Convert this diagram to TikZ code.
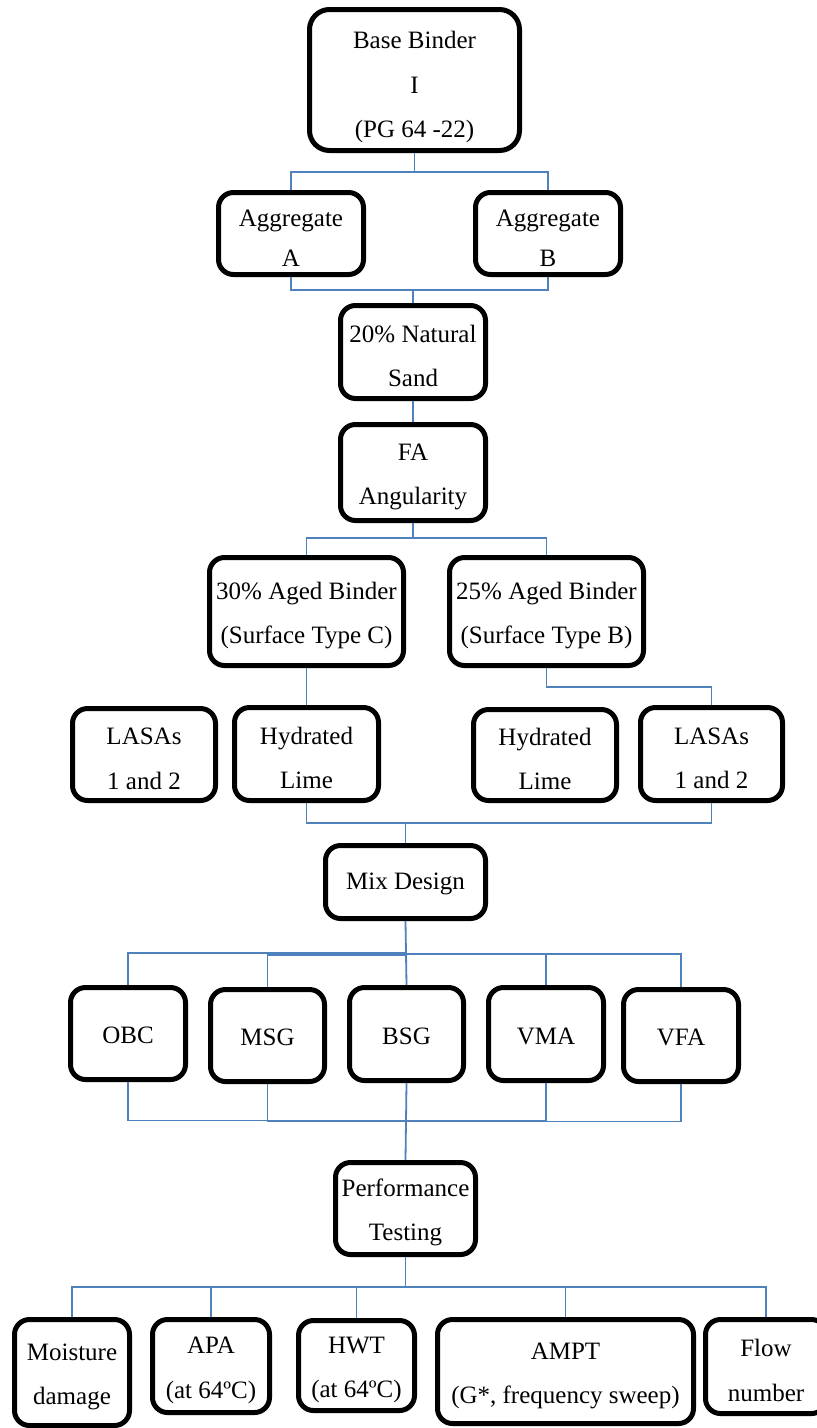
\documentclass[tikz,border=0pt]{standalone}
\usepackage{fontspec}
\setmainfont{Liberation Serif}
\definecolor{linkblue}{RGB}{79,129,189}
\begin{document}
\begin{tikzpicture}[x=1pt,y=-1pt,
  box/.style={draw=black, line width=5pt, rounded corners=15pt, inner sep=0pt,
    align=center, font=\fontsize{25}{44.5}\selectfont},
  oneline/.style={box, text height=21pt},
  twoline/.style={box, text height=69.5pt},
  conn/.style={draw=linkblue, line width=1.8pt}]
\useasboundingbox (0,0) rectangle (817,1428);
\clip (0,0) rectangle (817,1428);
\fill[white] (0,0) rectangle (817,1428);

% --- boxes ---
\node[box, rounded corners=20pt, minimum width=210pt, minimum height=141pt, text height=121pt]
  (base) at (414.5,80) {Base Binder\\I\\(PG 64 -22)};
\node[box, minimum width=145pt, minimum height=82pt, font=\fontsize{25}{40}\selectfont, text height=66.5pt]
  (aggA) at (291,233.5) {Aggregate\\A};
\node[box, minimum width=145pt, minimum height=82pt, font=\fontsize{25}{40}\selectfont, text height=66.5pt]
  (aggB) at (548,233.5) {Aggregate\\B};
\node[twoline, minimum width=145pt, minimum height=93pt] (sand) at (413,352) {20\% Natural\\Sand};
\node[twoline, minimum width=145pt, minimum height=96pt] (fa) at (413,472.5) {FA\\Angularity};
\node[twoline, minimum width=194pt, minimum height=108pt] (aged30) at (306.5,611.5) {30\% Aged Binder\\(Surface Type C)};
\node[twoline, minimum width=194pt, minimum height=108pt] (aged25) at (546.5,611.5) {25\% Aged Binder\\(Surface Type B)};
\node[twoline, minimum width=143pt, minimum height=92pt] (lasasL) at (144,754.5) {LASAs\\1 and 2};
\node[twoline, minimum width=144pt, minimum height=93pt] (limeL) at (306.5,754) {Hydrated\\Lime};
\node[twoline, minimum width=143pt, minimum height=91pt] (limeR) at (545,755) {Hydrated\\Lime};
\node[twoline, minimum width=142pt, minimum height=93pt] (lasasR) at (711.5,754) {LASAs\\1 and 2};
\node[oneline, minimum width=160pt, minimum height=73pt] (mix) at (405.5,882) {Mix Design};
\node[oneline, minimum width=115pt, minimum height=92pt] (obc) at (128,1033.5) {OBC};
\node[oneline, minimum width=114pt, minimum height=92pt] (msg) at (267.5,1035.5) {MSG};
\node[oneline, minimum width=114pt, minimum height=93pt] (bsg) at (406.5,1034) {BSG};
\node[oneline, minimum width=115pt, minimum height=93pt] (vma) at (546,1034) {VMA};
\node[oneline, minimum width=115pt, minimum height=92pt] (vfa) at (681,1035.5) {VFA};
\node[twoline, minimum width=140pt, minimum height=92pt] (perf) at (405.5,1208.5) {Performance\\Testing};
\node[twoline, minimum width=115pt, minimum height=106pt] (moist) at (72,1372.5) {Moisture\\damage};
\node[twoline, minimum width=117pt, minimum height=93pt] (apa) at (211,1366) {APA\\(at 64ºC)};
\node[twoline, minimum width=116pt, minimum height=90pt] (hwt) at (356.5,1365.5) {HWT\\(at 64ºC)};
\node[twoline, minimum width=256pt, minimum height=104pt] (ampt) at (565.5,1371.5) {AMPT\\(G*, frequency sweep)};
\node[twoline, minimum width=121pt, minimum height=94pt] (flow) at (766,1366.5) {Flow\\number};

% --- connectors ---
\draw[conn] (base.south) -- (base.south |- 0,172) -| (aggA.north);
\draw[conn] (base.south) -- (base.south |- 0,172) -| (aggB.north);
\draw[conn] (aggA.south) -- (aggA.south |- 0,290) -| (sand.north);
\draw[conn] (aggB.south) -- (aggB.south |- 0,290) -| (sand.north);
\draw[conn] (sand.south) -- (fa.north);
\draw[conn] (fa.south) -- (fa.south |- 0,538) -| (aged30.north);
\draw[conn] (fa.south) -- (fa.south |- 0,538) -| (aged25.north);
\draw[conn] (aged30.south) -- (limeL.north);
\draw[conn] (aged25.south) -- (aged25.south |- 0,687) -| (lasasR.north);
\draw[conn] (limeL.south) -- (limeL.south |- 0,823) -| (mix.north);
\draw[conn] (lasasR.south) -- (lasasR.south |- 0,823) -| (mix.north);
\draw[conn] (mix.south) -- (mix.south |- 0,953) -| (obc.north);
\draw[conn] (mix.south) -- (mix.south |- 0,955) -| (msg.north);
\draw[conn] (mix.south) -- (bsg.north);
\draw[conn] (mix.south) -- (mix.south |- 0,954) -| (vma.north);
\draw[conn] (mix.south) -- (mix.south |- 0,954) -| (vfa.north);
\draw[conn] (obc.south) -- (obc.south |- 0,1120.5) -| (perf.north);
\draw[conn] (msg.south) -- (msg.south |- 0,1121.5) -| (perf.north);
\draw[conn] (bsg.south) -- (perf.north);
\draw[conn] (vma.south) -- (vma.south |- 0,1121) -| (perf.north);
\draw[conn] (vfa.south) -- (vfa.south |- 0,1121.5) -| (perf.north);
\draw[conn] (perf.south) -- (perf.south |- 0,1287) -| (moist.north);
\draw[conn] (perf.south) -- (perf.south |- 0,1287) -| (apa.north);
\draw[conn] (perf.south) -- (perf.south |- 0,1287) -| (hwt.north);
\draw[conn] (perf.south) -- (perf.south |- 0,1287) -| (ampt.north);
\draw[conn] (perf.south) -- (perf.south |- 0,1287) -| (flow.north);
\end{tikzpicture}
\end{document}
